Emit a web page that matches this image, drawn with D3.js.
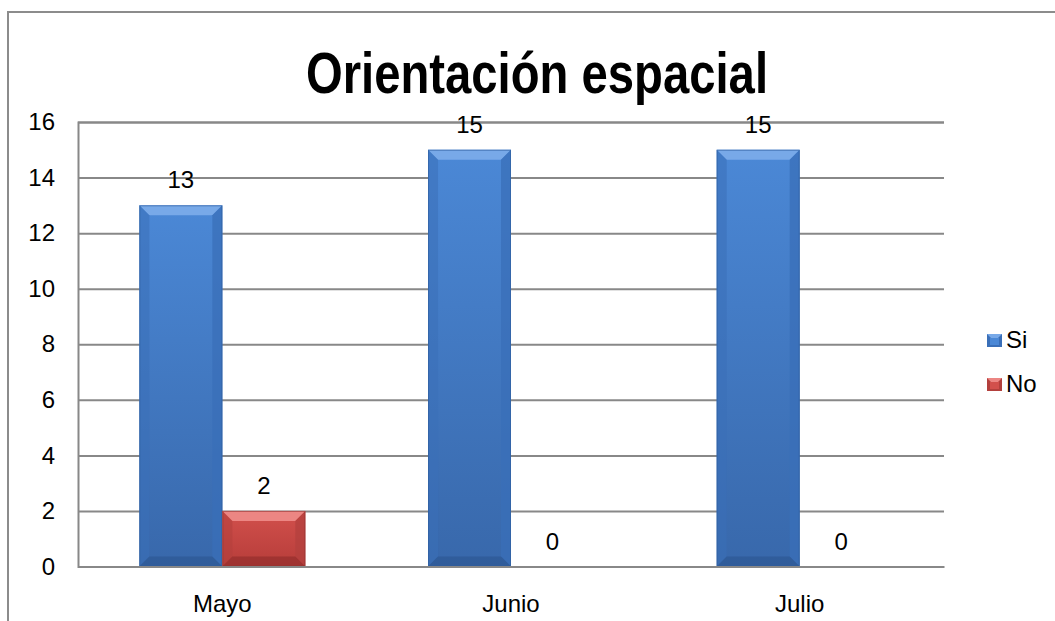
<!DOCTYPE html>
<html>
<head>
<meta charset="utf-8">
<script src="https://cdn.jsdelivr.net/npm/d3@7"></script>
<style>
  body { margin: 0; background: #fff; }
  svg { display: block; font-family: "Liberation Sans", Arial, sans-serif; }
</style>
</head>
<body>
<script>
const svgWidth = 1055;
const svgHeight = 621;

// data
const categories = ["Mayo", "Junio", "Julio"];
const seriesNames = ["Si", "No"];
const siValues = [13, 15, 15];
const noValues = [2, 0, 0];
const yTicks = [0, 2, 4, 6, 8, 10, 12, 14, 16];

const margin = {top: 122, right: 111, bottom: 54.5, left: 78};
const bevel = 10;

const colors = {
    Si: {face0: "#4b88d6", face1: "#3868ab", top: "#78a9e8", side: "#3a6fb8", bottom: "#2b5590", edge: "#2f5d9c"},
    No: {face0: "#d2504c", face1: "#b73d3a", top: "#ec8683", side: "#b3403d", bottom: "#8e2c2a", edge: "#8f3230"}
};

var svg = d3.select("body").append("svg")
    .attr("width", svgWidth)
    .attr("height", svgHeight);

// chart frame (cropped on right and bottom)
svg.append("path")
    .attr("d", `M8,${svgHeight + 2} L8,12 L${svgWidth + 2},12`)
    .attr("fill", "none")
    .attr("stroke", "#8c8c8c")
    .attr("stroke-width", 2);

// title - reference is a tall, narrow bold face
svg.append("text")
    .attr("x", 306)
    .attr("y", 93)
    .attr("font-size", 58)
    .attr("font-weight", "bold")
    .attr("textLength", 462)
    .attr("lengthAdjust", "spacingAndGlyphs")
    .text("Orientación espacial");

const x0 = d3.scaleBand()
    .domain(categories)
    .range([margin.left, svgWidth - margin.right])
    .paddingInner(0.425)
    .paddingOuter(0.2125);

const x1 = d3.scaleBand()
    .domain(seriesNames)
    .range([0, x0.bandwidth()]);

const y = d3.scaleLinear()
    .domain([0, 16])
    .range([svgHeight - margin.bottom, margin.top]);

// gradients for bar faces
const defs = svg.append("defs");
seriesNames.forEach(s => {
    const g = defs.append("linearGradient")
        .attr("id", "grad-" + s)
        .attr("x1", "0%").attr("x2", "0%")
        .attr("y1", "0%").attr("y2", "100%");
    g.append("stop").attr("offset", "0%").attr("stop-color", colors[s].face0);
    g.append("stop").attr("offset", "100%").attr("stop-color", colors[s].face1);
});

// gridlines + y labels
const yAxis = d3.axisLeft(y)
    .tickValues(yTicks)
    .tickSize(-(svgWidth - margin.right - margin.left))
    .tickPadding(23)
    .tickFormat(d3.format("d"));

const gy = svg.append("g")
    .attr("transform", `translate(${margin.left},0)`)
    .call(yAxis);
gy.select(".domain").attr("stroke", "#888").attr("stroke-width", 2);
gy.selectAll(".tick line").attr("stroke", "#888").attr("stroke-width", 2);
gy.selectAll(".tick text")
    .attr("font-size", 24)
    .attr("font-family", "Liberation Sans, Arial, sans-serif")
    .attr("fill", "#000");

// bars
const rows = categories.map((c, i) => ({cat: c, values: [
    {series: "Si", value: siValues[i]},
    {series: "No", value: noValues[i]}
]}));

const groups = svg.selectAll(".group")
    .data(rows)
    .enter().append("g")
    .attr("class", "group")
    .attr("transform", d => `translate(${x0(d.cat)},0)`);

const bars = groups.selectAll(".bar")
    .data(d => d.values)
    .enter().append("g")
    .attr("class", "bar");

function drawBar(sel) {
    sel.each(function(d) {
        if (d.value <= 0) return;
        const g = d3.select(this);
        const c = colors[d.series];
        const bx = x1(d.series), bw = x1.bandwidth();
        const by = y(d.value), bh = y(0) - y(d.value);
        const b = Math.min(bevel, bh / 2);
        g.append("rect")
            .attr("x", bx).attr("y", by).attr("width", bw).attr("height", bh)
            .attr("fill", `url(#grad-${d.series})`);
        // top bevel
        g.append("polygon")
            .attr("points", [[bx, by], [bx + bw, by], [bx + bw - b, by + b], [bx + b, by + b]].join(" "))
            .attr("fill", c.top);
        // side bevels
        g.append("polygon")
            .attr("points", [[bx, by], [bx + b, by + b], [bx + b, by + bh - b], [bx, by + bh]].join(" "))
            .attr("fill", c.side).attr("opacity", 0.55);
        g.append("polygon")
            .attr("points", [[bx + bw, by], [bx + bw - b, by + b], [bx + bw - b, by + bh - b], [bx + bw, by + bh]].join(" "))
            .attr("fill", c.side).attr("opacity", 0.75);
        // bottom bevel
        g.append("polygon")
            .attr("points", [[bx, by + bh], [bx + b, by + bh - b], [bx + bw - b, by + bh - b], [bx + bw, by + bh]].join(" "))
            .attr("fill", c.bottom).attr("opacity", 0.6);
        g.append("rect")
            .attr("x", bx + 0.5).attr("y", by + 0.5).attr("width", bw - 1).attr("height", bh - 1)
            .attr("fill", "none")
            .attr("stroke", c.edge)
            .attr("stroke-opacity", 0.6);
    });
}
bars.call(drawBar);

// data labels
groups.selectAll(".label")
    .data(d => d.values)
    .enter().append("text")
    .attr("class", "label")
    .attr("x", d => x1(d.series) + x1.bandwidth() / 2)
    .attr("y", d => y(d.value) - 17)
    .attr("text-anchor", "middle")
    .attr("font-size", 24)
    .text(d => d.value);

// x axis
const xAxis = d3.axisBottom(x0).tickSize(0).tickPadding(28);
const gx = svg.append("g")
    .attr("transform", `translate(0,${y(0)})`)
    .call(xAxis);
gx.select(".domain").attr("stroke", "#888").attr("stroke-width", 2);
gx.selectAll(".tick text")
    .attr("font-size", 24)
    .attr("font-family", "Liberation Sans, Arial, sans-serif")
    .attr("fill", "#000");

// legend
const legend = svg.selectAll(".legend")
    .data(seriesNames)
    .enter().append("g")
    .attr("class", "legend")
    .attr("transform", (d, i) => `translate(987,${334 + i * 44})`);

legend.each(function(s) {
    const g = d3.select(this);
    const c = colors[s];
    g.append("rect").attr("width", 15).attr("height", 13).attr("fill", c.side);
    g.append("polygon")
        .attr("points", "0,0 15,0 11,4 4,4")
        .attr("fill", c.top);
    g.append("rect").attr("x", 3).attr("y", 4).attr("width", 9).attr("height", 7).attr("fill", c.face0);
});
legend.append("text")
    .attr("x", 19)
    .attr("y", 14)
    .attr("font-size", 24)
    .text(d => d);
</script>
</body>
</html>
